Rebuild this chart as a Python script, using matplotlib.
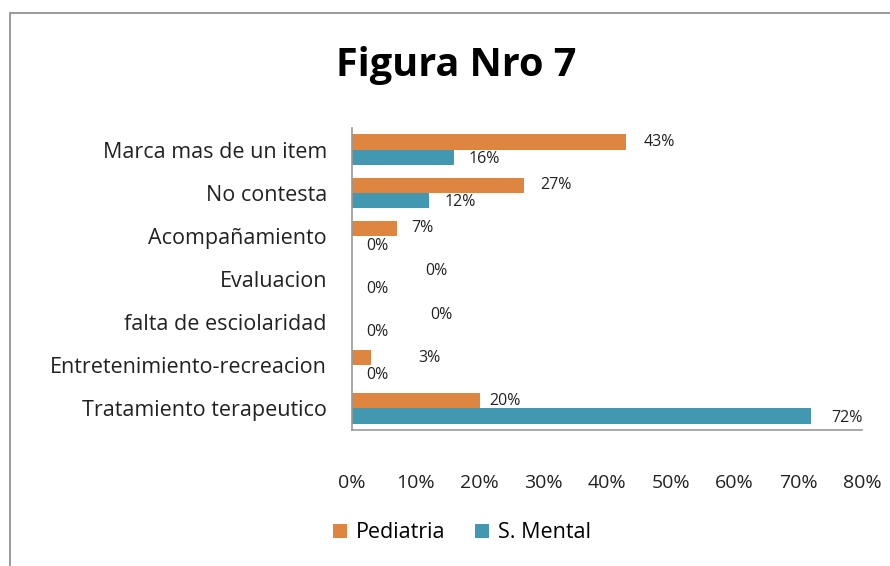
import matplotlib.pyplot as plt
from matplotlib.patches import Rectangle

categorias = ["Marca mas de un item", "No contesta", "Acompañamiento", "Evaluacion",
              "falta de esciolaridad", "Entretenimiento-recreacion", "Tratamiento terapeutico"]
pediatria = [43, 27, 7, 0, 0, 3, 20]
s_mental = [16, 12, 0, 0, 0, 0, 72]
ticks = [0, 10, 20, 30, 40, 50, 60, 70, 80]

# label offsets (pixels) to mimic the original placement
off_ped = [17, 16, 15, 73, 78, 47, 10]
off_sm = [15, 16, 14, 14, 14, 14, 20]

c_ped = "#DE853F"
c_sm = "#4298B0"
plt.rcParams['font.family'] = ['Open Sans', 'DejaVu Sans']

fig = plt.figure(figsize=(8.9, 5.66), dpi=100)
ax = fig.add_axes([352 / 890, 1 - 430 / 566, 510 / 890, 302 / 566])

n = len(categorias)
ys = list(range(n))
h = 0.35
ax.barh([y - h / 2 for y in ys], pediatria, height=h, color=c_ped, label="Pediatria")
ax.barh([y + h / 2 for y in ys], s_mental, height=h, color=c_sm, label="S. Mental")

for i in range(n):
    ax.annotate(f"{pediatria[i]}%", (pediatria[i], ys[i] - h / 2), xytext=(off_ped[i], 0),
                textcoords='offset pixels', ha='left', va='center', fontsize=11.5, color='#222222')
    ax.annotate(f"{s_mental[i]}%", (s_mental[i], ys[i] + h / 2 + 0.05), xytext=(off_sm[i], 0),
                textcoords='offset pixels', ha='left', va='center', fontsize=11.5, color='#222222')

ax.set_ylim(n - 0.5, -0.5)
ax.set_xlim(0, 80)
ax.set_yticks(ys)
ax.set_yticklabels(categorias, fontsize=15.5, color='#222222')
ax.set_xticks(ticks)
ax.set_xticklabels([f"{t}%" for t in ticks], fontsize=14, color='#222222')
ax.tick_params(axis='x', length=0, pad=32)
ax.tick_params(axis='y', length=0, pad=18)
for s in ['top', 'right']:
    ax.spines[s].set_visible(False)
for s in ['left', 'bottom']:
    ax.spines[s].set_color('#999999')
    ax.spines[s].set_linewidth(1.2)

fig.text(456 / 890, 1 - 66 / 566, "Figura Nro 7", ha='center', va='center',
         fontsize=28.5, fontweight='bold', color='black')

fig.legend(loc='center', bbox_to_anchor=(462 / 890, 1 - 533 / 566), ncol=2, frameon=False,
           fontsize=15.5, handlelength=0.65, handleheight=0.65, handletextpad=0.4, columnspacing=1.4)

fig.patches.append(Rectangle((10 / 890, -0.1), 1.2, 1 - 13 / 566 + 0.1, transform=fig.transFigure,
                             fill=False, edgecolor='#888888', linewidth=1.2))

fig.savefig("out.png", dpi=100)
